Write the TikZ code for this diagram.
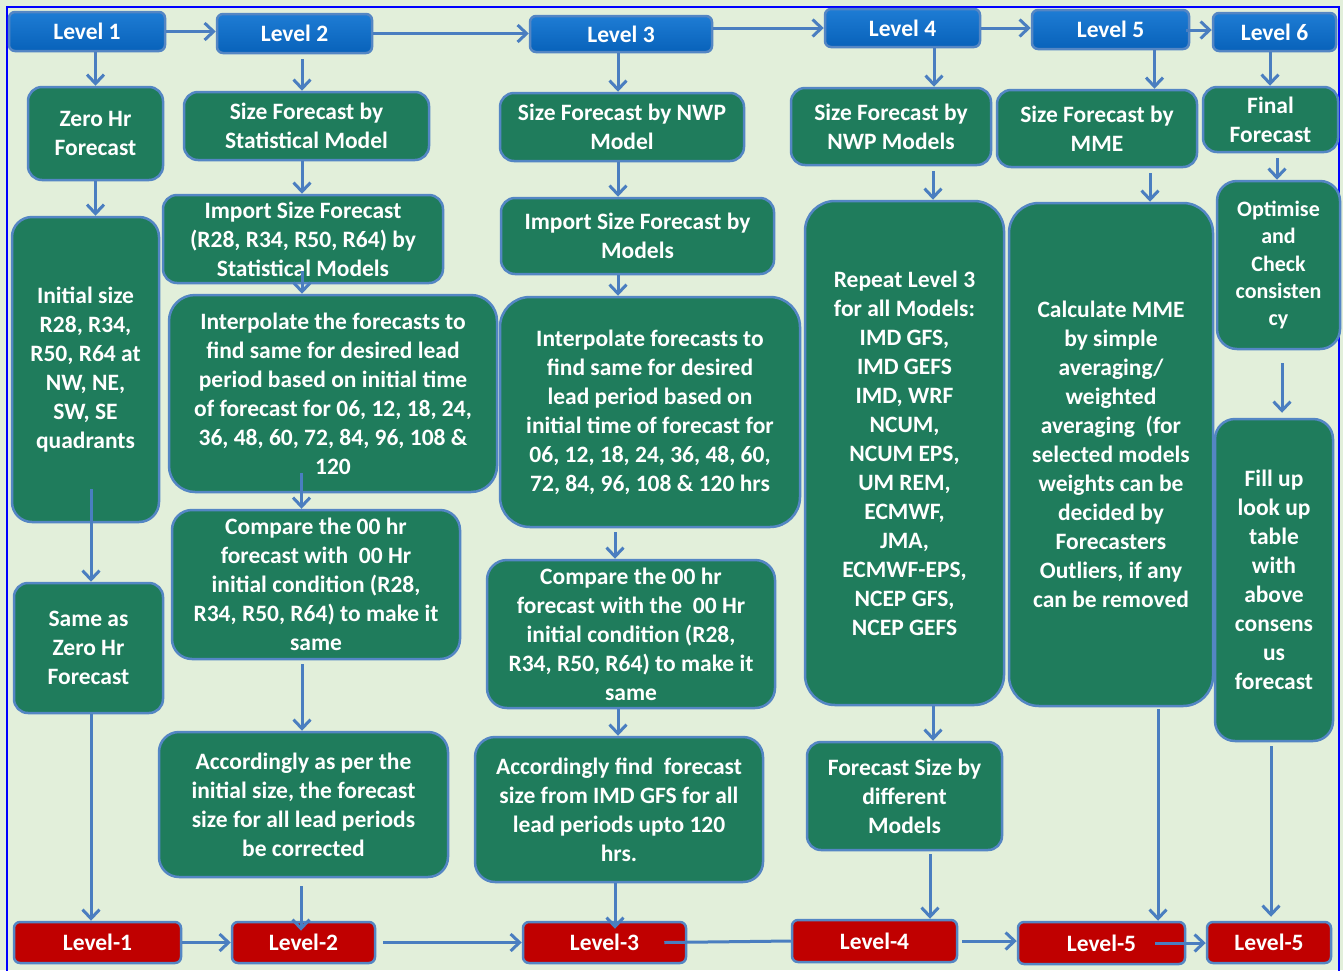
\documentclass[tikz,border=0pt]{standalone}
\usepackage{fontspec}
\setmainfont{Carlito}
\usetikzlibrary{arrows.meta,calc}
\definecolor{bg}{RGB}{226,239,218}
\definecolor{gfill}{RGB}{31,124,92}
\definecolor{edge}{RGB}{84,134,196}
\definecolor{arrowc}{RGB}{74,126,192}
\definecolor{lvtop}{RGB}{30,124,212}
\definecolor{lvbot}{RGB}{8,98,186}
\definecolor{redbox}{RGB}{192,0,0}
\definecolor{framec}{RGB}{0,0,255}
\begin{document}
\begin{tikzpicture}[x=1pt,y=-1pt,
  box/.style={draw=edge, line width=2.5pt, text=white, align=center,
    font=\bfseries\fontsize{23.5}{29}\selectfont, inner sep=0pt},
  gbox/.style={box, fill=gfill, rounded corners=14pt},
  tallbox/.style={box, fill=gfill, rounded corners=26pt},
  lvl/.style={box, top color=lvtop, bottom color=lvbot, rounded corners=6pt},
  outbox/.style={box, fill=redbox, rounded corners=6pt},
  arr/.style={draw=arrowc, line width=3pt, -{Straight Barb[length=9pt,width=17pt]}},
  link/.style={draw=arrowc, line width=3pt}]

\useasboundingbox (0,0) rectangle (1343,970);
\fill[bg] (0,0) rectangle (1343,970);
\draw[framec, line width=1.5pt] (7,980) -- (7,7) -- (1339,7) -- (1339,980);

% top row: levels
\node[lvl, minimum width=156pt, minimum height=39pt] (L1) at (87,31.5) {Level 1};
\node[lvl, minimum width=155pt, minimum height=39pt] (L2) at (294.5,33.5) {Level 2};
\node[lvl, minimum width=182pt, minimum height=36pt] (L3) at (621,34) {Level 3};
\node[lvl, minimum width=155pt, minimum height=38pt] (L4) at (902.5,28) {Level 4};
\node[lvl, minimum width=157pt, minimum height=39pt] (L5) at (1110.5,29.5) {Level 5};
\node[lvl, minimum width=123pt, minimum height=38pt] (L6) at (1274.5,32) {Level 6};

% column 1
\node[gbox, minimum width=135pt, minimum height=93pt] (zero) at (95.5,133.5) {Zero Hr\\Forecast};
\node[tallbox, rounded corners=20pt, minimum width=147pt, minimum height=305pt] (init) at (85.5,369.5)
  {Initial size\\R28, R34,\\R50, R64 at\\NW, NE,\\SW, SE\\quadrants};
\node[gbox, minimum width=149pt, minimum height=130pt] (same) at (88.5,648) {Same as\\Zero Hr\\Forecast};
\node[outbox, minimum width=167pt, minimum height=41pt] (R1) at (97.5,942.5) {Level-1};

% column 2
\node[gbox, minimum width=245pt, minimum height=68pt] (sf2) at (306.5,126) {Size Forecast by\\Statistical Model};
\node[gbox, minimum width=280pt, minimum height=88pt] (imp2) at (303,239)
  {Import Size Forecast\\(R28, R34, R50, R64) by\\Statistical Models};
\node[tallbox, minimum width=328pt, minimum height=197pt] (int2) at (333,393.5)
  {Interpolate the forecasts to\\find same for desired lead\\period based on initial time\\of forecast for 06, 12, 18, 24,\\36, 48, 60, 72, 84, 96, 108 \&\\120};
\node[gbox, rounded corners=20pt, minimum width=288pt, minimum height=149pt] (cmp2) at (316,584.5)
  {Compare the 00 hr\\forecast with\ \ 00 Hr\\initial condition (R28,\\R34, R50, R64) to make it\\same};
\node[gbox, rounded corners=20pt, minimum width=289pt, minimum height=145pt] (acc2) at (303.5,804.5)
  {Accordingly as per the\\initial size, the forecast\\size for all lead periods\\be corrected};
\node[outbox, minimum width=143pt, minimum height=41pt] (R2) at (303.5,942.5) {Level-2};

% column 3
\node[gbox, minimum width=244pt, minimum height=68pt] (sf3) at (622,127) {Size Forecast by NWP\\Model};
\node[gbox, minimum width=273pt, minimum height=76pt] (imp3) at (637.5,236) {Import Size Forecast by\\Models};
\node[tallbox, rounded corners=30pt, minimum width=300pt, minimum height=230pt] (int3) at (650,412)
  {Interpolate forecasts to\\find same for desired\\lead period based on\\initial time of forecast for\\06, 12, 18, 24, 36, 48, 60,\\72, 84, 96, 108 \& 120 hrs};
\node[gbox, rounded corners=20pt, minimum width=288pt, minimum height=148pt] (cmp3) at (631,634)
  {Compare the 00 hr\\forecast with the\ \ 00 Hr\\initial condition (R28,\\R34, R50, R64) to make it\\same};
\node[gbox, rounded corners=20pt, minimum width=288pt, minimum height=145pt] (acc3) at (619,809.5)
  {Accordingly find\ \ forecast\\size from IMD GFS for all\\lead periods upto 120\\hrs.};
\node[outbox, minimum width=163pt, minimum height=41pt] (R3) at (604.5,942.5) {Level-3};

% column 4
\node[gbox, minimum width=200pt, minimum height=77pt] (sf4) at (891,126.5) {Size Forecast by\\NWP Models};
\node[tallbox, rounded corners=30pt, minimum width=199pt, minimum height=504pt] (rep) at (904.5,453)
  {Repeat Level 3\\for all Models:\\IMD GFS,\\IMD GEFS\\IMD, WRF\\NCUM,\\NCUM EPS,\\UM REM,\\ECMWF,\\JMA,\\ECMWF-EPS,\\NCEP GFS,\\NCEP GEFS};
\node[gbox, minimum width=195pt, minimum height=108pt] (fs4) at (904.5,796) {Forecast Size by\\different\\Models};
\node[outbox, minimum width=165pt, minimum height=42pt] (R4) at (874.5,941) {Level-4};

% column 5
\node[gbox, minimum width=200pt, minimum height=77pt] (sf5) at (1097,128.5) {Size Forecast by\\MME};
\node[tallbox, rounded corners=30pt, minimum width=204pt, minimum height=503pt] (calc) at (1111,454.5)
  {Calculate MME\\by simple\\averaging/\\weighted\\averaging\ \ (for\\selected models\\weights can be\\decided by\\Forecasters\\Outliers, if any\\can be removed};
\node[outbox, minimum width=167pt, minimum height=42pt] (R5) at (1101.5,943) {Level-5};

% column 6
\node[gbox, minimum width=135pt, minimum height=65pt] (fin) at (1270.5,119.5) {Final\\Forecast};
\node[gbox, rounded corners=20pt, minimum width=123pt, minimum height=168pt,
  font=\bfseries\fontsize{22}{27.3}\selectfont] (opt) at (1278.5,265)
  {Optimise\\and\\Check\\consisten\\cy};
\node[gbox, rounded corners=20pt, minimum width=118pt, minimum height=322pt] (fill) at (1274,580)
  {Fill up\\look up\\table\\with\\above\\consens\\us\\forecast};
\node[outbox, minimum width=124pt, minimum height=41pt] (R6) at (1269,942.5) {Level-5};

% connectors along the top row
\draw[arr] (L1.east) -- (L1.east -| L2.west);
\draw[arr] (L2.east) -- (L2.east -| L3.west);
\draw[arr] (L4.west -| L3.east) -- (L4.west);
\draw[arr] (L4.east) -- (L4.east -| L5.west);
\draw[arr] ($(L5.east |- L6.west)+(-4,-2)$) -- ($(L6.west)+(0,-2)$);

% column 1 connectors
\draw[arr] (zero.north |- L1.south) -- (zero.north);
\draw[arr] (zero.south) -- (zero.south |- init.north);
\draw[arr] ($(same.north |- init.south)+(2.5,-34)$) -- ($(same.north)+(2.5,0)$);
\draw[arr] ($(same.south)+(2.5,0)$) -- ($(same.south |- R1.north)+(2.5,0)$);

% column 2 connectors
\draw[arr] ($(sf2.north |- L2.south)+(-4.5,5)$) -- ($(sf2.north)+(-4.5,0)$);
\draw[arr] ($(imp2.north |- sf2.south)+(-1,0)$) -- ($(imp2.north)+(-1,0)$);
\draw[arr] ($(imp2.south)+(-1,-13)$) -- ($(imp2.south |- int2.north)+(-1,0)$);
\draw[arr] ($(acc2.north |- int2.south)+(-2,-20)$) -- ($(acc2.north |- cmp2.north)+(-2,0)$);
\draw[arr] ($(acc2.north |- cmp2.south)+(-1.5,4)$) -- ($(acc2.north)+(-1.5,0)$);
\draw[arr] ($(acc2.south)+(-2.5,8)$) -- ($(acc2.south |- R2.north)+(-2.5,10)$);

% column 3 connectors
\draw[arr] ($(L3.south)+(-3,0)$) -- ($(L3.south |- sf3.north)+(-3,0)$);
\draw[arr] ($(sf3.south)+(-4,0)$) -- ($(sf3.south |- imp3.north)+(-4,0)$);
\draw[arr] ($(sf3.south |- imp3.south)+(-4,0)$) -- ($(sf3.south |- int3.north)+(-4,0)$);
\draw[arr] ($(acc3.north |- int3.south)+(-4,4)$) -- ($(acc3.north |- cmp3.north)+(-4,0)$);
\draw[arr] ($(acc3.north |- cmp3.south)+(-1,0)$) -- ($(acc3.north)+(-1,0)$);
\draw[arr] ($(acc3.south)+(-4,0)$) -- ($(acc3.south |- R3.north)+(-4,8)$);

% column 4 connectors
\draw[arr] ($(L4.south)+(31.5,0)$) -- ($(L4.south |- sf4.north)+(31.5,0)$);
\draw[arr] ($(L4.south |- sf4.south)+(30.5,5)$) -- ($(L4.south |- rep.north)+(30.5,0)$);
\draw[arr] ($(L4.south |- rep.south)+(30.5,0)$) -- ($(L4.south |- fs4.north)+(30.5,0)$);
\draw[arr] ($(fs4.south)+(25.5,3)$) -- ($(fs4.south |- R4.north)+(25.5,0)$);

% column 5 connectors
\draw[arr] ($(L5.south)+(44,0)$) -- ($(L5.south |- sf5.north)+(44,0)$);
\draw[arr] ($(L5.south |- sf5.south)+(39.5,5)$) -- ($(L5.south |- calc.north)+(39.5,0)$);
\draw[arr] ($(L5.south |- calc.south)+(47.5,2)$) -- ($(L5.south |- R5.north)+(47.5,0)$);

% column 6 connectors
\draw[arr] ($(L6.south)+(-4.5,0)$) -- ($(L6.south |- fin.north)+(-4.5,0)$);
\draw[arr] ($(L6.south |- fin.south)+(2.5,5)$) -- ($(L6.south |- opt.north)+(2.5,0)$);
\draw[arr] ($(L6.south |- opt.south)+(7.5,13)$) -- ($(L6.south |- fill.north)+(7.5,-5)$);
\draw[arr] ($(L6.south |- fill.south)+(-3.5,4)$) -- ($(L6.south |- R6.north)+(-3.5,-4)$);

% connectors along the bottom row
\draw[arr] (R1.east) -- (R1.east -| R2.west);
\draw[arr] ($(R2.east)+(7,0)$) -- (R2.east -| R3.west);
\draw[link] ($(R3.east)+(-23,0)$) -- (R4.west);
\draw[arr] ($(R4.east)+(4,0)$) -- (R4.east -| R5.west);
\draw[arr] ($(R5.east)+(-31,0)$) -- (R5.east -| R6.west);
\end{tikzpicture}
\end{document}
